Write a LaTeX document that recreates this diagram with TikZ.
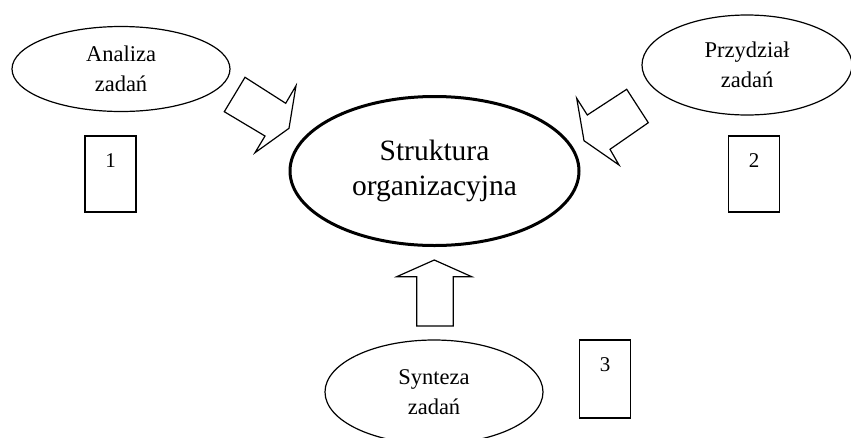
\documentclass[tikz,border=0pt]{standalone}
\usepackage{fontspec}
\setmainfont{Liberation Serif}
\usetikzlibrary{shapes.geometric,calc}

\newcommand\tasksize{\fontsize{22.5pt}{29.5pt}\selectfont}
\newcommand\digitsize{\fontsize{21pt}{25pt}\selectfont}
\newcommand\coresize{\fontsize{29.5pt}{35pt}\selectfont}

\tikzset{
  task/.style={ellipse, draw, line width=1.2pt, inner sep=0pt,
               minimum width=218pt, align=center, font=\tasksize},
  core/.style={ellipse, draw, line width=3pt, inner sep=0pt,
               minimum width=289pt, minimum height=149pt, align=center,
               font=\coresize},
  numbox/.style={rectangle, draw, line width=1.5pt, inner sep=0pt,
                 minimum width=51pt, minimum height=76pt},
  numtext/.style={font=\digitsize, inner sep=0pt},
  blockarrow/.style={draw, line width=1.2pt, fill=white, line join=miter}
}

\begin{document}
\begin{tikzpicture}[x=1pt,y=-1pt]
  \useasboundingbox (0,0) rectangle (851,437);
  \clip (0,0) rectangle (851,437);
  \fill[white] (0,0) rectangle (851,437);

  % central ellipse
  \node[core] (core) at (434.5,171) {Struktura\\organizacyjna};

  % the three task ellipses
  \node[task, minimum height=85pt] (analiza) at (121,69) {Analiza\\zadań};
  \node[task, minimum width=210pt, minimum height=100pt] (przydzial) at (747,65) {Przydział\\zadań};
  \node[task, minimum height=104pt] (synteza) at (434,392) {Synteza\\zadań};

  % numbered boxes
  \node[numbox] (b1) at (110.5,174) {};
  \node[numbox] (b2) at (754,174) {};
  \node[numbox, minimum height=78pt] (b3) at (605,379) {};
  \path (b1.north) ++(0,25) node[numtext] {1};
  \path (b2.north) ++(0,25) node[numtext] {2};
  \path (b3.north) ++(0,25) node[numtext] {3};

  % block arrows pointing at the central ellipse
  \draw[blockarrow] (245,77.3) -- (285.7,103.3) -- (296,85.7) -- (289,128.3)
        -- (255,152.7) -- (265,136) -- (224.3,111.7) -- cycle;
  \draw[blockarrow] (626.7,89.3) -- (648.3,122.7) -- (610,149.3) -- (619,165)
        -- (584,140.7) -- (576.7,98.3) -- (587.3,115) -- cycle;
  \draw[blockarrow] (434.3,260) -- (471.7,276.7) -- (453.3,276.7) -- (453.3,326)
        -- (416.7,326) -- (416.7,276.7) -- (396.7,276.7) -- cycle;
\end{tikzpicture}
\end{document}
